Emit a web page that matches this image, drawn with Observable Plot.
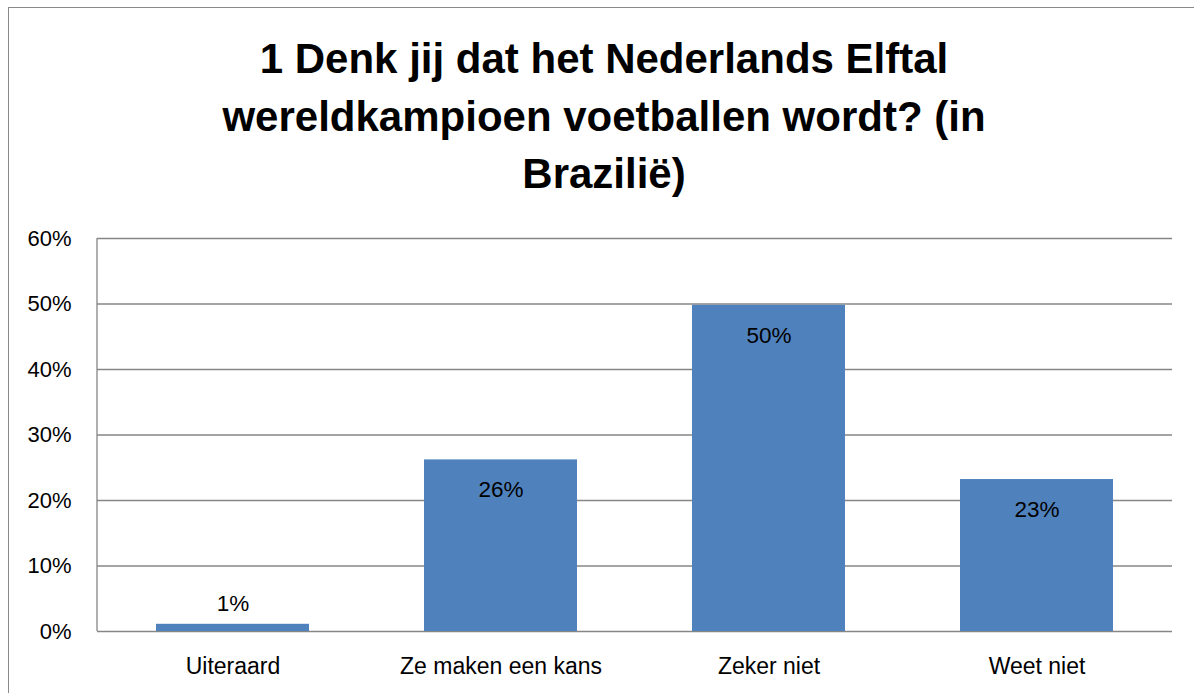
<!DOCTYPE html>
<html>
<head>
<meta charset="utf-8">
<script src="https://cdn.jsdelivr.net/npm/d3@7"></script>
<script src="https://cdn.jsdelivr.net/npm/@observablehq/plot@0.6"></script>
<style>
  html, body { margin: 0; padding: 0; background: #fff; }
  #wrap { position: relative; width: 1194px; height: 693px; overflow: hidden; background: #fff; }
  #frame { position: absolute; left: 8px; top: 6.5px; width: 1400px; height: 900px;
           border-left: 1.5px solid #8a8a8a; border-top: 1.5px solid #8a8a8a; }
  #title { position: absolute; left: 8px; top: 30px; width: 1192px; text-align: center;
           font-family: "Liberation Sans", Arial, sans-serif; font-weight: bold;
           font-size: 42px; line-height: 57.5px; color: #000; }
  #chart { position: absolute; left: 0; top: 210px; }
</style>
</head>
<body>
<div id="wrap">
  <div id="frame"></div>
  <div id="title"></div>
  <div id="chart"></div>
</div>
<script>
const titleLines = ["1 Denk jij dat het Nederlands Elftal", "wereldkampioen voetballen wordt? (in", "Brazilië)"];
const categories = ["Uiteraard", "Ze maken een kans", "Zeker niet", "Weet niet"];
const values = [0.011, 0.262, 0.498, 0.232];
const yTicks = [0, 0.1, 0.2, 0.3, 0.4, 0.5, 0.6];

const titleEl = document.getElementById("title");
titleLines.forEach((t, i) => {
  if (i > 0) titleEl.appendChild(document.createElement("br"));
  titleEl.appendChild(document.createTextNode(t));
});

const data = categories.map((c, i) => ({category: c, value: values[i]}));
const pct = d3.format(".0%");
const font = '"Liberation Sans", Arial, sans-serif';

function leftAxisLine(...args) {
  const dims = args.find(a => a && typeof a === "object" && "marginLeft" in a);
  const scales = args.find(a => a && typeof a === "object" && typeof a.y === "function");
  const line = document.createElementNS("http://www.w3.org/2000/svg", "line");
  const x = dims.marginLeft;
  line.setAttribute("x1", x);
  line.setAttribute("x2", x);
  line.setAttribute("y1", scales.y(yTicks[0]));
  line.setAttribute("y2", scales.y(yTicks[yTicks.length - 1]));
  line.setAttribute("stroke", "#868686");
  line.setAttribute("stroke-width", 1.3);
  return line;
}

const chart = Plot.plot({
  width: 1194,
  height: 483,
  marginLeft: 97,
  marginRight: 22,
  marginTop: 28,
  marginBottom: 62,
  style: {fontFamily: font, background: "transparent", color: "#000", overflow: "visible"},
  x: {domain: categories, paddingInner: 0.43, paddingOuter: 0.215, label: null},
  y: {domain: [0, 0.6], label: null},
  marks: [
    Plot.ruleY(yTicks, {stroke: "#868686", strokeWidth: 1.3}),
    leftAxisLine,
    Plot.barY(data, {x: "category", y: "value", fill: "#4F81BD"}),
    Plot.axisY({ticks: yTicks, tickFormat: pct, tickSize: 0, tickPadding: 26, fontSize: 22, label: null}),
    Plot.axisX({tickSize: 0, tickPadding: 26, fontSize: 23, label: null}),
    Plot.text(data.filter(d => d.value >= 0.05), {x: "category", y: "value", text: d => pct(d.value), dy: 30, fontSize: 22.5, fill: "#000"}),
    Plot.text(data.filter(d => d.value < 0.05), {x: "category", y: "value", text: d => pct(d.value), dy: -20, fontSize: 22.5, fill: "#000"})
  ]
});
document.getElementById("chart").appendChild(chart);
</script>
</body>
</html>
